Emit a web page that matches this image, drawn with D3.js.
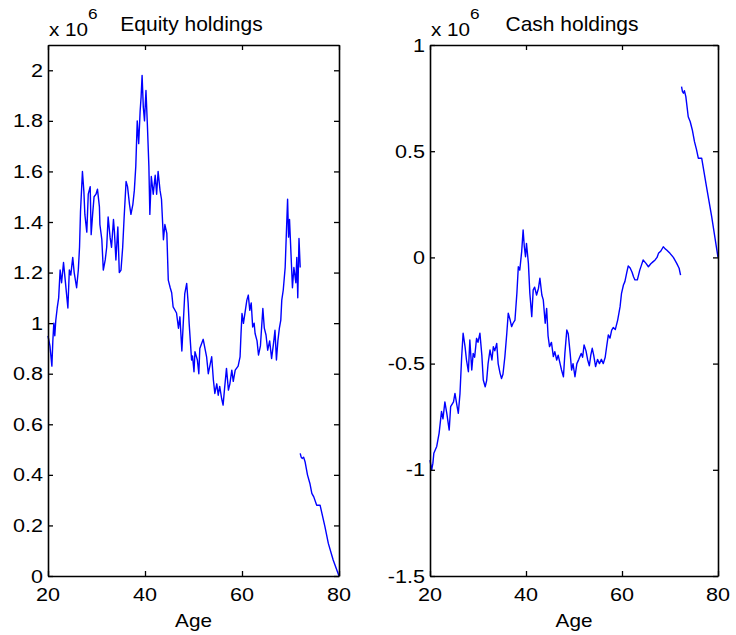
<!DOCTYPE html>
<html>
<head>
<meta charset="utf-8">
<script src="https://cdn.jsdelivr.net/npm/d3@7"></script>
<style>
  body { margin: 0; background: #fff; }
  text { font-family: "Liberation Sans", Arial, Helvetica, sans-serif; fill: #000; }
</style>
</head>
<body>
<svg id="fig" width="736" height="635"></svg>
<script>
// Simulated life-cycle portfolio path, values in millions (axis shows x 10^6)
const equityAge = [20.0,20.4,20.8,21.0,21.2,21.4,21.6,21.9,22.2,22.5,22.8,23.0,23.2,23.5,23.9,24.1,24.4,24.7,25.1,25.4,25.9,26.25,26.5,26.7,27.1,27.4,27.6,28.0,28.3,28.7,28.9,29.2,29.5,29.9,30.2,30.6,30.7,31.1,31.4,31.8,32.1,32.4,32.8,33.1,33.5,33.7,34.0,34.4,34.7,35.05,35.4,35.7,36.1,36.4,36.8,37.1,37.5,37.8,38.1,38.4,38.7,39.0,39.2,39.4,39.65,39.9,40.2,40.5,40.8,41.0,41.3,41.7,42.1,42.4,42.7,43.1,43.4,43.8,44.1,44.5,44.8,45.2,45.5,45.8,46.5,46.9,47.2,47.6,48.2,48.6,48.9,49.1,49.4,49.6,49.8,50.1,50.3,50.8,51.1,51.3,52.0,52.7,53.05,53.75,54.1,54.4,54.8,55.1,55.4,55.8,56.1,56.4,56.8,57.2,57.5,57.9,58.2,58.6,59.2,59.6,59.8,60.0,60.3,61.0,61.3,61.6,61.9,62.2,62.5,62.7,63.1,63.4,63.8,64.0,64.3,64.6,64.95,65.3,65.7,66.1,66.5,66.8,67.1,67.4,67.7,68.0,68.2,68.5,68.9,69.1,69.4,69.6,69.8,70.1,70.4,70.7,71.1,71.3,71.5,71.75,72.0];
const equityVal = [0.95,0.91,0.83,0.93,1.00,0.95,1.01,1.06,1.10,1.21,1.16,1.20,1.24,1.18,1.10,1.06,1.21,1.19,1.26,1.20,1.14,1.21,1.30,1.44,1.60,1.52,1.43,1.36,1.51,1.54,1.35,1.43,1.50,1.51,1.53,1.46,1.39,1.33,1.21,1.25,1.30,1.42,1.34,1.30,1.41,1.36,1.25,1.38,1.20,1.21,1.30,1.42,1.56,1.54,1.47,1.43,1.47,1.525,1.62,1.80,1.71,1.84,1.895,1.98,1.855,1.80,1.92,1.78,1.62,1.43,1.58,1.51,1.585,1.51,1.60,1.525,1.49,1.33,1.39,1.355,1.17,1.14,1.12,1.064,1.04,0.98,1.025,0.89,1.117,1.157,1.078,1.00,0.913,0.854,0.87,0.808,0.887,0.854,0.80,0.90,0.936,0.867,0.80,0.867,0.775,0.722,0.76,0.715,0.75,0.702,0.676,0.74,0.821,0.735,0.76,0.814,0.77,0.814,0.83,0.867,0.959,1.038,0.999,1.091,1.111,1.051,1.08,0.985,1.0,0.959,0.93,0.874,0.91,0.97,1.058,0.98,0.953,0.893,0.93,0.86,0.92,0.972,0.854,0.93,0.979,1.012,1.091,1.13,1.22,1.33,1.49,1.34,1.41,1.275,1.14,1.22,1.16,1.26,1.10,1.335,1.22];
const equityTailAge = [72.0,72.2,72.4,72.7,73.0,73.5,74.0,74.4,74.8,75.4,76.1,77.1,77.8,78.8,80.0];
const equityTailVal = [0.485,0.47,0.465,0.47,0.452,0.40,0.366,0.327,0.313,0.28,0.28,0.195,0.129,0.063,0.0];

const cashAge = [20.0,20.35,20.6,20.8,21.4,21.9,22.4,22.7,23.1,23.5,24.0,24.3,24.9,25.2,25.6,25.9,26.25,26.6,26.9,27.3,27.6,28.0,28.3,28.7,29.0,29.3,29.7,30.0,30.4,30.8,31.1,31.5,31.8,32.1,32.5,32.9,33.2,33.5,33.9,34.2,34.6,34.9,35.2,35.6,36.0,36.3,36.7,37.0,37.3,37.7,38.1,38.4,38.7,39.1,39.4,39.65,39.9,40.1,40.5,40.8,41.2,41.5,41.8,42.2,42.6,42.9,43.3,43.6,44.0,44.3,44.6,44.9,45.3,45.7,46.0,46.4,46.7,47.1,47.4,47.8,48.1,48.5,48.8,49.2,49.5,49.8,50.2,50.6,51.0,51.5,51.8,52.1,52.5,52.85,53.2,53.5,53.8,54.1,54.5,54.9,55.3,55.7,56.1,56.5,56.8,57.15,57.5,57.85,58.2,58.6,59.1,59.6,59.9,60.3,60.6,61.0,61.3,61.7,62.1,62.4,62.7,63.2,63.7,64.0,64.4,65.0,65.5,66.0,66.5,66.9,67.3,67.6,68.1,68.6,69.0,69.3,70.0,70.7,71.4,71.9,72.2];
const cashVal = [-0.954,-1.00,-0.97,-0.922,-0.89,-0.827,-0.725,-0.76,-0.68,-0.734,-0.813,-0.703,-0.68,-0.64,-0.695,-0.734,-0.64,-0.467,-0.357,-0.42,-0.483,-0.538,-0.389,-0.53,-0.452,-0.47,-0.381,-0.40,-0.357,-0.46,-0.577,-0.609,-0.58,-0.50,-0.436,-0.483,-0.42,-0.44,-0.405,-0.50,-0.546,-0.57,-0.55,-0.467,-0.357,-0.263,-0.295,-0.326,-0.31,-0.295,-0.169,-0.044,-0.06,0.027,0.129,0.05,0.003,0.066,-0.028,-0.169,-0.279,-0.153,-0.14,-0.177,-0.145,-0.098,-0.177,-0.20,-0.31,-0.24,-0.37,-0.42,-0.40,-0.467,-0.444,-0.483,-0.46,-0.50,-0.53,-0.562,-0.452,-0.342,-0.36,-0.452,-0.53,-0.50,-0.562,-0.50,-0.48,-0.452,-0.47,-0.412,-0.44,-0.483,-0.51,-0.46,-0.428,-0.46,-0.514,-0.48,-0.50,-0.48,-0.50,-0.47,-0.42,-0.365,-0.38,-0.342,-0.33,-0.34,-0.295,-0.232,-0.169,-0.13,-0.114,-0.07,-0.04,-0.05,-0.07,-0.091,-0.106,-0.106,-0.06,-0.04,-0.012,-0.028,-0.044,-0.03,-0.02,-0.012,0.0,0.019,0.03,0.05,0.04,0.035,0.019,0.0,-0.028,-0.051,-0.083];
const cashTailAge = [72.4,72.6,72.8,73.0,73.3,73.8,74.2,74.65,75.1,75.5,75.9,76.6,77.6,78.7,80.0];
const cashTailVal = [0.804,0.78,0.773,0.785,0.757,0.662,0.64,0.60,0.545,0.51,0.467,0.467,0.333,0.19,0.0];

const ageTicks = [20, 40, 60, 80];
const equityTicks = [0, 0.2, 0.4, 0.6, 0.8, 1, 1.2, 1.4, 1.6, 1.8, 2];
const equityTickLabels = ["0", "0.2", "0.4", "0.6", "0.8", "1", "1.2", "1.4", "1.6", "1.8", "2"];
const cashTicks = [-1.5, -1, -0.5, 0, 0.5, 1];
const cashTickLabels = ["-1.5", "-1", "-0.5", "0", "0.5", "1"];

const zip = (a, b) => a.map((v, i) => [v, b[i]]);

const panels = [
  { title: "Equity holdings", x0: 48, x1: 339, yDomain: [0, 2.1],
    ticks: equityTicks, labels: equityTickLabels,
    segments: [zip(equityAge, equityVal), zip(equityTailAge, equityTailVal)] },
  { title: "Cash holdings", x0: 430, x1: 718, yDomain: [-1.5, 1],
    ticks: cashTicks, labels: cashTickLabels,
    segments: [zip(cashAge, cashVal), zip(cashTailAge, cashTailVal)] }
];

const plotTop = 45, plotBottom = 576;
const svg = d3.select("#fig");

// text helper: Helvetica-like glyphs, slightly widened
function label(g, x, y, str, size, sx, anchor) {
  return g.append("text")
    .attr("transform", `translate(${x},${y}) scale(${sx},1)`)
    .attr("text-anchor", anchor)
    .style("font-size", size + "px")
    .text(str);
}

panels.forEach(p => {
  const x = d3.scaleLinear().domain([20, 80]).range([p.x0, p.x1]);
  const y = d3.scaleLinear().domain(p.yDomain).range([plotBottom, plotTop]);
  const g = svg.append("g");

  // data lines
  const line = d3.line().x(d => x(d[0])).y(d => y(d[1]));
  p.segments.forEach(seg => {
    g.append("path").datum(seg)
      .attr("d", line)
      .attr("fill", "none")
      .attr("stroke", "#0000ff")
      .attr("stroke-width", 1.4)
      .attr("stroke-linejoin", "round");
  });

  // boxed axes with inward ticks
  const axes = [
    [d3.axisBottom(x).tickValues(ageTicks), `translate(0,${plotBottom})`],
    [d3.axisTop(x).tickValues(ageTicks), `translate(0,${plotTop})`],
    [d3.axisLeft(y).tickValues(p.ticks), `translate(${p.x0},0)`],
    [d3.axisRight(y).tickValues(p.ticks), `translate(${p.x1},0)`]
  ];
  axes.forEach(([ax, tr]) => {
    const a = g.append("g").attr("transform", tr)
      .call(ax.tickSizeInner(-5).tickSizeOuter(0).tickFormat(""));
    a.select(".domain").attr("stroke", "#000").attr("stroke-width", 1.6);
    a.selectAll(".tick line").attr("stroke", "#000").attr("stroke-width", 1.3);
  });

  // tick labels
  p.ticks.forEach((t, i) => label(g, p.x0 - 5, y(t) + 6.5, p.labels[i], 18, 1.2, "end"));
  ageTicks.forEach(t => label(g, x(t), 601, String(t), 18, 1.2, "middle"));

  // axis title, panel title, exponent
  const cx = (p.x0 + p.x1) / 2;
  label(g, cx, 627, "Age", 18, 1.15, "middle");
  label(g, cx - 2, 31, p.title, 20, 1.05, "middle");
  label(g, p.x0 + 1, 36, "x 10", 18, 1.15, "start");
  label(g, p.x0 + 40, 19, "6", 15, 1.15, "start");
});
</script>
</body>
</html>
